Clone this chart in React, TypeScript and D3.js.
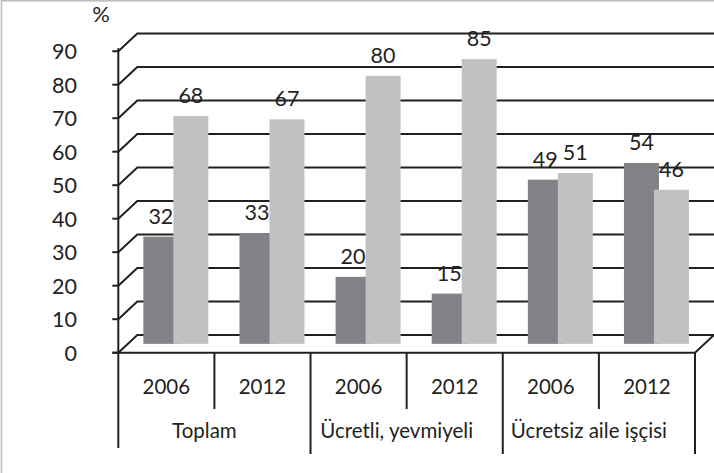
import React from "react";
import * as d3 from "d3";

const groups = ["Toplam", "Ücretli, yevmiyeli", "Ücretsiz aile işçisi"];
const years = ["2006", "2012"];
const categories = ["Toplam|2006", "Toplam|2012", "Ücretli|2006", "Ücretli|2012", "Ücretsiz|2006", "Ücretsiz|2012"];
const seriesDark = [32, 33, 20, 15, 49, 54];
const seriesLight = [68, 67, 80, 85, 51, 46];
const yTicks = [0, 10, 20, 30, 40, 50, 60, 70, 80, 90];

const W = 714;
const H = 473;
const FONT = "Lato, 'Open Sans', sans-serif";
const INK = "#231f20";
const DARK = "#808285";
const LIGHT = "#c0c1c3";

export default function App() {
  const x0 = 118.3;
  const x1 = 695;
  const y0 = 352.7;
  const yTop = 51.2;
  const dx = 19;
  const dy = -17.7;

  const x = d3.scaleBand<string>().domain(categories).range([x0, x1]);
  const y = d3.scaleLinear().domain([0, 90]).range([y0, yTop]);
  const bw = x.bandwidth();
  const barW = 35;

  const gridPath = (v: number) => {
    const yf = y(v);
    return `M${x0},${yf}L${x0 + dx},${yf + dy}L${x1 + dx},${yf + dy}`;
  };

  const barCenter = (i: number) => (x(categories[i]) as number) + bw / 2 + dx / 2;
  const barY = (v: number) => y(v) + dy / 2;
  const barBase = y0 + dy / 2;

  const groupEdges = [0, 2, 4, 6].map((k) => (k < 6 ? (x(categories[k]) as number) : x1));
  const minorEdges = [1, 3, 5].map((k) => x(categories[k]) as number);

  return (
    <svg width={W} height={H} style={{ position: "absolute", left: 0, top: 0, background: "#fff" }}>
      <rect x={1.5} y={0.8} width={W + 10} height={H + 10} fill="#fff" stroke="#bdbdbd" strokeWidth={1.6} />
      <g fill="none" stroke={INK} strokeWidth={2}>
        {yTicks.map((v) => (
          <path key={v} d={gridPath(v)} />
        ))}
        <path d={`M${x0 - 6},${y0}L${x1},${y0}L${x1 + dx},${y0 + dy}`} />
        <path d={`M${x0},${y(90) - 3}L${x0},${y0}`} />
        {yTicks.map((v) => (
          <path key={"t" + v} d={`M${x0 - 6},${y(v)}L${x0},${y(v)}`} />
        ))}
        {groupEdges.map((ex, i) => (
          <path key={"g" + i} d={`M${ex},${y0}L${ex},${i === 0 ? 448 : 454}`} />
        ))}
        {minorEdges.map((ex, i) => (
          <path key={"m" + i} d={`M${ex},${y0}L${ex},${409}`} />
        ))}
      </g>
      {categories.map((c, i) => {
        const cx = barCenter(i);
        return (
          <g key={c}>
            <rect x={cx - 32.5} y={barY(seriesDark[i])} width={barW} height={barBase - barY(seriesDark[i])} fill={DARK} />
            <rect x={cx - 2.5} y={barY(seriesLight[i])} width={barW} height={barBase - barY(seriesLight[i])} fill={LIGHT} />
          </g>
        );
      })}
      <g fontFamily={FONT} fontSize={21.5} fill={INK} textAnchor="middle">
        {categories.map((c, i) => {
          const cx = barCenter(i);
          return (
            <g key={"l" + c}>
              <text x={cx - 15} y={barY(seriesDark[i]) - 13}>{seriesDark[i]}</text>
              <text x={cx + 15} y={barY(seriesLight[i]) - 13}>{seriesLight[i]}</text>
            </g>
          );
        })}
      </g>
      <g fontFamily={FONT} fontSize={21.5} fill={INK} textAnchor="end">
        {yTicks.map((v) => (
          <text key={"yl" + v} x={77} y={y(v) + 7.8}>{v}</text>
        ))}
      </g>
      <text x={101} y={22} fontFamily={FONT} fontSize={22} fill={INK} textAnchor="middle">%</text>
      <g fontFamily={FONT} fontSize={20.5} fill={INK} textAnchor="middle">
        {categories.map((c, i) => (
          <text key={"c" + c} x={(x(c) as number) + bw / 2} y={394}>{years[i % 2]}</text>
        ))}
        {groups.map((g, i) => (
          <text key={"gl" + g} x={(groupEdges[i] + groupEdges[i + 1]) / 2 - 10} y={438}>{g}</text>
        ))}
      </g>
    </svg>
  );
}
